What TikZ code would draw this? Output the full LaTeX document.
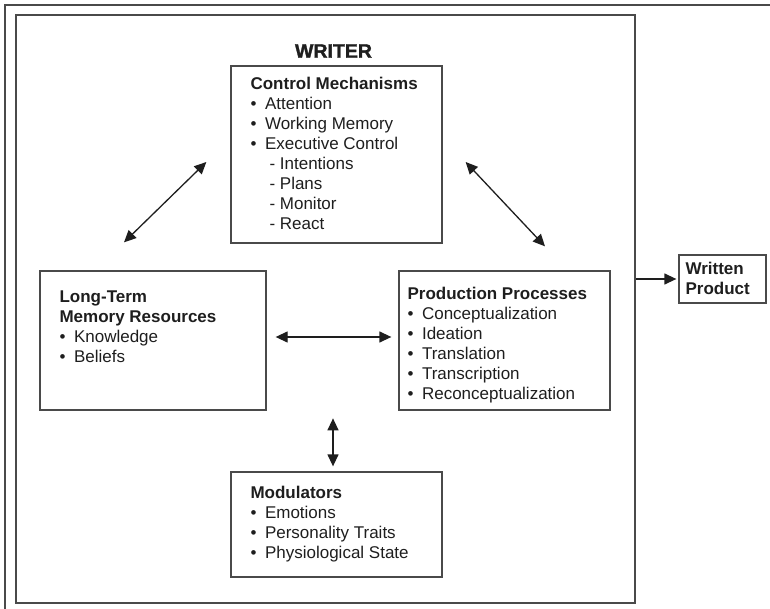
\documentclass[tikz,border=0pt]{standalone}
\usepackage{fontspec}
\setmainfont{Liberation Sans}
\newfontfamily\heavyfont[FakeBold=1.6]{Liberation Sans Bold}
\usetikzlibrary{arrows.meta,calc,positioning}
\definecolor{frame}{HTML}{4A4A4A}
\definecolor{ink}{HTML}{1E1E1E}
\newcommand{\itm}[1]{\makebox[14.5pt][l]{\textbullet}#1}
\newcommand{\subitm}[1]{\hspace*{19pt}-\ #1}

\begin{document}
\begin{tikzpicture}[x=1pt,y=-1pt,
  box/.style={draw=frame,line width=1.3pt,inner sep=0pt},
  txt/.style={anchor=north west,inner sep=0pt,align=left,text=ink,
              font=\fontsize{17}{20}\selectfont},
  conn/.style={draw=ink,line width=1.3pt},
  >={Triangle[length=12pt,width=11pt]}]
  \useasboundingbox (0,0) rectangle (770,609);
  % page frame, only its top and left edges show
  \draw[frame,line width=1.5pt] (770,5) -- (5,5) -- (5,609);
  \node[box,line width=2pt,minimum width=619pt,minimum height=588pt] (writer) at (325.5,309) {};
  \node[text=ink,font=\fontsize{19.5}{24}\heavyfont] (title) at (333.5,51) {WRITER};

  \node[box,minimum width=211pt,minimum height=177pt] (ctrl) at (336.5,154.5) {};
  \node[box,minimum width=226pt,minimum height=139pt] (ltm) at (153,340.5) {};
  \node[box,minimum width=211pt,minimum height=139pt] (prod) at (504.5,340.5) {};
  \node[box,minimum width=211pt,minimum height=105pt] (mod) at (336.5,524.5) {};
  \node[box,minimum width=87pt,minimum height=48pt] (out) at (722.5,279) {};

  \node[txt] (ctrltxt) at ($(ctrl.north west)+(20,12)$)
    {\textbf{Control Mechanisms}\\\itm{Attention}\\\itm{Working Memory}\\
     \itm{Executive Control}\\\subitm{Intentions}\\\subitm{Plans}\\
     \subitm{Monitor}\\\subitm{React}};
  \node[txt] (ltmtxt) at ($(ltm.north west)+(20,20)$)
    {\textbf{Long-Term}\\\textbf{Memory Resources}\\\itm{Knowledge}\\\itm{Beliefs}};
  \node[txt] (prodtxt) at ($(prod.north west)+(9,17)$)
    {\textbf{Production Processes}\\\itm{Conceptualization}\\\itm{Ideation}\\
     \itm{Translation}\\\itm{Transcription}\\\itm{Reconceptualization}};
  \node[txt] (modtxt) at ($(mod.north west)+(20,15)$)
    {\textbf{Modulators}\\\itm{Emotions}\\\itm{Personality Traits}\\\itm{Physiological State}};
  \node[txt] (outtxt) at ($(out.north west)+(7,8)$)
    {\textbf{Written}\\\textbf{Product}};

  \draw[conn,<->] ($(ltm.north)+(-29,-28)$) -- ($(ctrl.west)+(-24,7.5)$);
  \draw[conn,<->] ($(ctrl.east)+(23,7.5)$) -- ($(prod.north)+(40.5,-24)$);
  \draw[conn,<->] ($(ltm.east)+(9,-3.5)$) -- ($(prod.west)+(-7,-3.5)$);
  \draw[conn,<->] ($(mod.north)+(-3.5,-53)$) -- ($(mod.north)+(-3.5,-5)$);
  \draw[conn,->,shorten >=2pt] (writer.east |- out.west) -- (out.west);
\end{tikzpicture}
\end{document}
